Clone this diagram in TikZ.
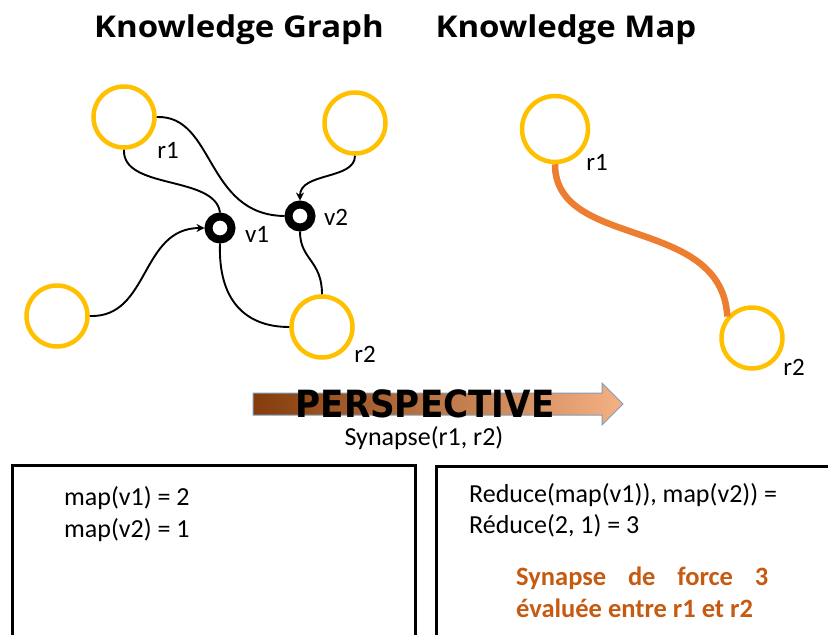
\documentclass[tikz,border=0pt]{standalone}
\usepackage{fontspec}
\setmainfont{Carlito}
\newfontfamily\titlefont{Open Sans}
\newfontfamily\persfont{DejaVu Sans}
\usetikzlibrary{arrows.meta}

\definecolor{gold}{HTML}{FFC000}
\definecolor{synorange}{HTML}{ED7D31}
\definecolor{forcetext}{HTML}{C55A11}
\definecolor{arrowdark}{HTML}{843C0C}
\definecolor{arrowlight}{HTML}{F4B183}
\definecolor{arrowrim}{HTML}{7F9DB9}

\begin{document}
\begin{tikzpicture}[x=1pt,y=-1pt,
        rnode/.style={circle,draw=gold,line width=4.5pt,minimum size=61pt,inner sep=0pt},
        vnode/.style={circle,draw=black,line width=8pt,minimum size=23pt,inner sep=0pt},
        link/.style={line width=1.9pt},
        tip/.style={-{Stealth[length=8pt,width=8pt]}},
        lbl/.style={font=\fontsize{25}{28}\selectfont,inner sep=0pt},
        ttl/.style={font=\titlefont\bfseries\fontsize{30}{34}\selectfont,anchor=base,inner sep=0pt},
        txt/.style={font=\fontsize{26}{30}\selectfont,anchor=base west,inner sep=0pt},
        box/.style={draw=black,line width=3pt}]
        \clip (0,0) rectangle (828,635);

        % titles
        \node[ttl] (kgtitle) at (239,37) {\scalebox{1.1}[1]{Knowledge Graph}};
        \node[ttl] (kmtitle) at (566,37) {\scalebox{1.1}[1]{Knowledge Map}};

        % knowledge graph
        \node[rnode] (g1) at (124,117) {};
        \node[rnode] (g2) at (355,123) {};
        \node[rnode] (g3) at (57,316) {};
        \node[rnode] (g4) at (322,327) {};
        \node[vnode] (v1) at (220,228) {};
        \node[vnode] (v2) at (300,216) {};
        \node[lbl] (g1lab) at (168,150) {r1};
        \node[lbl] (g4lab) at (365,354) {r2};
        \node[lbl] (v1lab) at (257,234) {v1};
        \node[lbl] (v2lab) at (336,217) {v2};

        \draw[link] (g1.east) .. controls (215,115) and (205,215) .. (v2.west);
        \draw[link] (g1.south) .. controls (122,190) and (215,175) .. (v1.north);
        \draw[link,tip] (g3.east) .. controls (150,318) and (140,228) .. (v1.west);
        \draw[link,tip] (g2.south) .. controls (355,180) and (300,172) .. (v2.north);
        \draw[link] (v1.south) .. controls (218,300) and (245,327) .. (g4.west);
        \draw[link] (v2.south) .. controls (300,260) and (322,260) .. (g4.north);

        % knowledge map
        \node[rnode,minimum size=66pt] (m1) at (555,129) {};
        \node[rnode] (m2) at (752,338) {};
        \node[lbl] (m1lab) at (597,162) {r1};
        \node[lbl] (m2lab) at (794,367) {r2};
        \draw[synorange,line width=6.5pt] (m1.south) .. controls (555,250) and (722,215) .. (m2.139);

        % perspective arrow
        \shade[left color=arrowdark,right color=arrowlight,draw=arrowrim,line width=1pt]
            (253,393) -- (602,393) -- (602,383) -- (623,404) -- (602,425) -- (602,415) -- (253,415) -- cycle;
        \node[anchor=base,inner sep=0pt] (persp) at (425,417)
            {\scalebox{1.14}[1.25]{\persfont\bfseries\fontsize{30}{30}\selectfont PERSPECTIVE}};
        \node[font=\fontsize{26}{30}\selectfont,anchor=base,inner sep=0pt] (syn) at (424,445) {Synapse(r1, r2)};

        % boxes
        \draw[box] (12,465) rectangle (415,640);
        \draw[box] (436,466) rectangle (840,640);
        \node[txt] (map1) at (64,505) {map(v1) = 2};
        \node[txt] (map2) at (64,537) {map(v2) = 1};
        \node[txt] (red1) at (469,502) {Reduce(map(v1)), map(v2)) =};
        \node[txt] (red2) at (469,533) {Réduce(2, 1) = 3};
        \node[txt,text=forcetext,font=\bfseries\fontsize{26.5}{30}\selectfont] (force1) at (516,585)
            {\makebox[252pt][s]{Synapse de force 3}};
        \node[txt,text=forcetext,font=\bfseries\fontsize{26.5}{30}\selectfont] (force2) at (516,617)
            {évaluée entre r1 et r2};
\end{tikzpicture}
\end{document}
